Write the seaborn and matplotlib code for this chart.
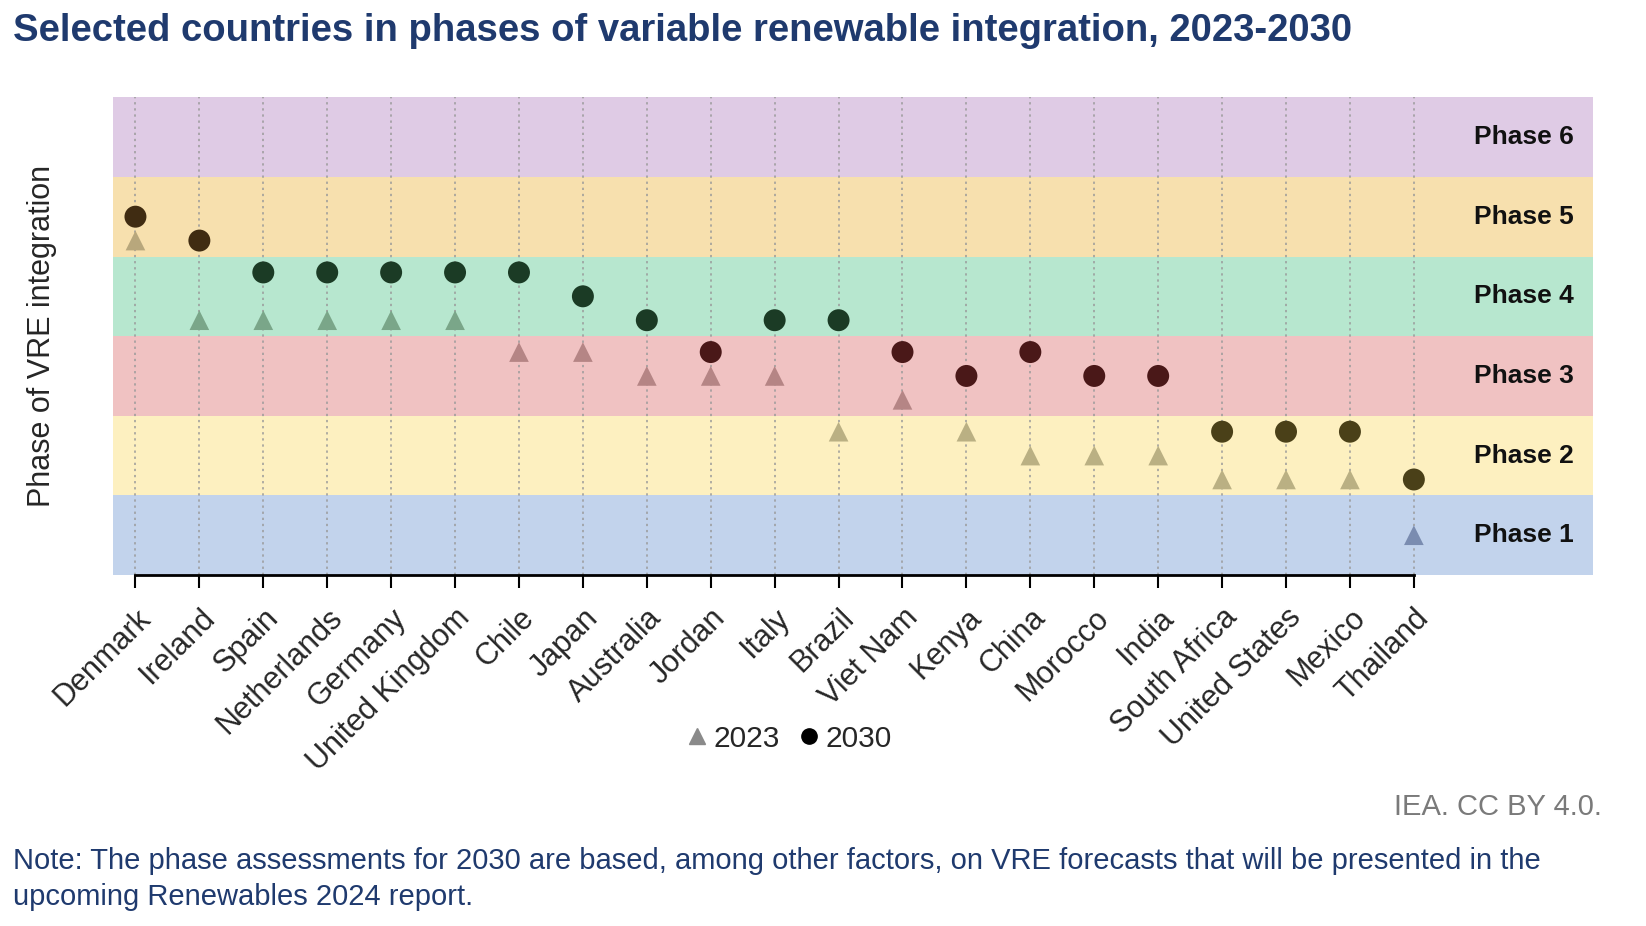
import pandas as pd
import seaborn as sns
import matplotlib.pyplot as plt
from matplotlib.lines import Line2D

# Countries, ordered as in the chart
countries = ['Denmark', 'Ireland', 'Spain', 'Netherlands', 'Germany', 'United Kingdom',
             'Chile', 'Japan', 'Australia', 'Jordan', 'Italy', 'Brazil', 'Viet Nam',
             'Kenya', 'China', 'Morocco', 'India', 'South Africa', 'United States',
             'Mexico', 'Thailand']

# Position of each country on the phase scale (band k spans k-0.5 .. k+0.5)
pos_2023 = [4.7, 3.7, 3.7, 3.7, 3.7, 3.7, 3.3, 3.3, 3.0, 3.0, 3.0, 2.3, 2.7,
            2.3, 2.0, 2.0, 2.0, 1.7, 1.7, 1.7, 1.0]
pos_2030 = [5.0, 4.7, 4.3, 4.3, 4.3, 4.3, 4.3, 4.0, 3.7, 3.3, 3.7, 3.7, 3.3,
            3.0, 3.3, 3.0, 3.0, 2.3, 2.3, 2.3, 1.7]

phases = [1, 2, 3, 4, 5, 6]
phase_labels = ['Phase 1', 'Phase 2', 'Phase 3', 'Phase 4', 'Phase 5', 'Phase 6']
band_colors = ['#c2d3ec', '#fdf0c0', '#f0c2c2', '#b7e7cf', '#f7e0ae', '#dfcbe5']
tri_colors = {1: '#7a8cb0', 2: '#bab083', 3: '#b58585', 4: '#7aa689', 5: '#b8a77c'}
dot_colors = {2: '#4a4018', 3: '#4a1818', 4: '#1b3b25', 5: '#402c12'}

df23 = pd.DataFrame({'country': countries, 'pos': pos_2023})
df23['phase'] = df23['pos'].round().astype(int)
df30 = pd.DataFrame({'country': countries, 'pos': pos_2030})
df30['phase'] = df30['pos'].round().astype(int)

sns.set_style('white')
plt.rcParams['font.family'] = ['Liberation Sans', 'DejaVu Sans']

fig = plt.figure(figsize=(16.46, 9.26), dpi=100)
ax = fig.add_axes([0.0687, 0.379, 0.899, 0.516])

for p, c in zip(phases, band_colors):
    ax.axhspan(p - 0.5, p + 0.5, color=c, lw=0, zorder=0)

sns.scatterplot(data=df23, x='country', y='pos', hue='phase', palette=tri_colors,
                marker='^', s=200, linewidth=0, legend=False, ax=ax, zorder=3)
sns.scatterplot(data=df30, x='country', y='pos', hue='phase', palette=dot_colors,
                marker='o', s=250, linewidth=0, legend=False, ax=ax, zorder=4)

for p, lab in zip(phases, phase_labels):
    ax.text(22.5, p, lab, ha='right', va='center', fontsize=19, fontweight='bold',
            color='#111111', zorder=5)

ax.set_xlim(-0.35, 22.8)
ax.set_ylim(0.5, 6.5)
ax.set_axisbelow('line')
ax.grid(axis='x', linestyle=(0, (1.5, 2.5)), color='#9a9a9a', lw=1.1)
ax.grid(axis='y', visible=False)
ax.set_yticks([])
ax.set_xlabel('')
ax.set_ylabel('Phase of VRE integration', fontsize=22)
ax.yaxis.set_label_coords(-0.038, 0.5)

for side in ['top', 'right', 'left']:
    ax.spines[side].set_visible(False)
ax.spines['bottom'].set_bounds(0, len(countries) - 1)
ax.spines['bottom'].set_linewidth(2)
ax.spines['bottom'].set_color('black')
ax.tick_params(axis='x', bottom=True, length=9, width=1.5, color='black', pad=11)
ax.set_xticks(range(len(countries)))
ax.set_xticklabels(countries, rotation=45, ha='right', va='top',
                   rotation_mode='anchor', fontsize=22)

handles = [Line2D([], [], marker='^', color='#8a8a8a', ls='', markersize=11),
           Line2D([], [], marker='o', color='black', ls='', markersize=11)]
fig.legend(handles, ['2023', '2030'], loc='center', bbox_to_anchor=(0.478, 0.202),
           ncol=2, frameon=False, fontsize=21.5, handletextpad=0.05, columnspacing=0.5,
           handlelength=1.0)

fig.text(0.008, 0.966, 'Selected countries in phases of variable renewable integration, 2023-2030',
         fontsize=27.5, fontweight='bold', color='#1f3a6e', ha='left', va='center')
fig.text(0.973, 0.128, 'IEA. CC BY 4.0.', fontsize=21, color='#7a7a7a', ha='right', va='center')
fig.text(0.008, 0.051, 'Note: The phase assessments for 2030 are based, among other factors, on VRE forecasts that will be presented in the\nupcoming Renewables 2024 report.',
         fontsize=21, color='#1f3a6e', ha='left', va='center', linespacing=1.36)

fig.savefig('out.png', dpi=100)
